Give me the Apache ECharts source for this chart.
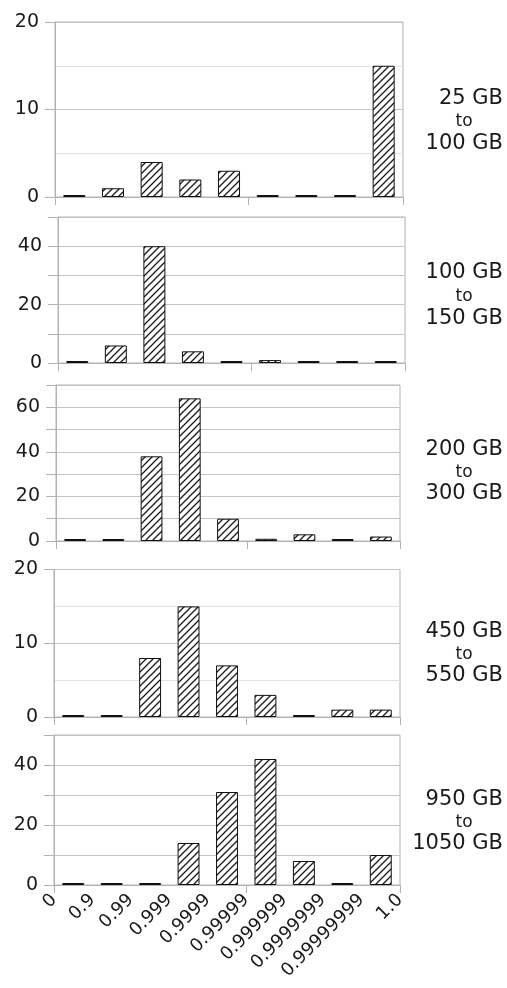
<!DOCTYPE html>
<html>
<head>
<meta charset="utf-8">
<script src="https://cdn.jsdelivr.net/npm/echarts@6/dist/echarts.min.js"></script>
<style>
html,body{margin:0;padding:0;background:#fff;}
#c{width:507px;height:988px;}
</style>
</head>
<body>
<div id="c"></div>
<script>
// ---- data ----
const edgeLabels = ['0','0.9','0.99','0.999','0.9999','0.99999','0.999999','0.9999999','0.99999999','1.0'];
const bins = ['0–0.9','0.9–0.99','0.99–0.999','0.999–0.9999','0.9999–0.99999','0.99999–0.999999','0.999999–0.9999999','0.9999999–0.99999999','0.99999999–1.0'];
const size25to100   = [0, 1, 4, 2, 3, 0, 0, 0, 15];
const size100to150  = [0, 6, 40, 4, 0, 1, 0, 0, 0];
const size200to300  = [0, 0, 38, 64, 10, 1, 3, 0, 2];
const size450to550  = [0, 0, 8, 15, 7, 3, 0, 1, 1];
const size950to1050 = [0, 0, 0, 14, 31, 42, 8, 0, 10];
const panelLabels = [
  ['25 GB','to','100 GB'],
  ['100 GB','to','150 GB'],
  ['200 GB','to','300 GB'],
  ['450 GB','to','550 GB'],
  ['950 GB','to','1050 GB']
];
const yMax = [20, 50, 70, 20, 50];
const yLabelStep = [10, 20, 20, 10, 20];

// ---- layout / style ----
const seriesData = [size25to100, size100to150, size200to300, size450to550, size950to1050];
const grids = [
  {left:55, top:22, width:348, height:175},
  {left:58, top:217, width:347, height:146},
  {left:56, top:385, width:344, height:156},
  {left:54, top:569.5, width:346, height:147.5},
  {left:54, top:735, width:346, height:150}
];
const labelY = [[99,122,144],[273,297,319],[450,473,494],[631.7,655,675.5],[800,823,844]];

const pc = document.createElement('canvas');
pc.width = 7; pc.height = 7;
const g = pc.getContext('2d');
g.fillStyle = '#fff'; g.fillRect(0,0,7,7);
g.strokeStyle = '#1a1a1a'; g.lineWidth = 1.3;
g.beginPath();
g.moveTo(-1,8); g.lineTo(8,-1);
g.moveTo(-1,1); g.lineTo(1,-1);
g.moveTo(6,8); g.lineTo(8,6);
g.stroke();

const axisGray = '#b3b3b3';
const font = 'DejaVu Sans';

const option = {
  animation:false,
  backgroundColor:'#fff',
  grid: grids.map(gr => Object.assign({show:true, borderColor:axisGray, borderWidth:1, containLabel:false}, gr)),
  xAxis: [],
  yAxis: [],
  series: [],
  graphic: []
};

for (let i = 0; i < 5; i++) {
  option.xAxis.push({
    type:'category', gridIndex:i, data:bins, boundaryGap:true,
    axisLine:{show:true, lineStyle:{color:axisGray, width:1}},
    axisTick:{show:true, length:8, lineStyle:{color:axisGray}},
    axisLabel:{show:false},
    splitLine:{show:false}
  });
  const step = yLabelStep[i];
  const minor = (i === 0 || i === 3);
  option.yAxis.push({
    type:'value', gridIndex:i, min:0, max:yMax[i], interval:10,
    axisLine:{show:true, lineStyle:{color:axisGray, width:1}},
    axisTick:{show:true, length:10, lineStyle:{color:axisGray}},
    axisLabel:{show:true, margin:16, fontFamily:font, fontSize:19, color:'#1a1a1a',
      formatter: v => (v % step === 0 ? String(v) : '')},
    splitLine:{show:true, lineStyle:{color:'#c4c4c4', width:1}},
    minorTick:{show:false, splitNumber:2},
    minorSplitLine:{show:minor, lineStyle:{color:'#e2e2e2', width:1}}
  });
  option.series.push({
    type:'bar', xAxisIndex:i, yAxisIndex:i, data:seriesData[i],
    barWidth:'57%', barMinHeight:2,
    itemStyle:{color:{image:pc, repeat:'repeat'}, borderColor:'#111', borderWidth:1},
    emphasis:{disabled:true}
  });
  const L = panelLabels[i];
  const ys = labelY[i];
  option.graphic.push(
    {type:'text', x:503, y:ys[0], style:{text:L[0], font:'21px "DejaVu Sans"', fill:'#1a1a1a', textAlign:'right', textVerticalAlign:'middle'}},
    {type:'text', x:464, y:ys[1], style:{text:L[1], font:'17px "DejaVu Sans"', fill:'#1a1a1a', textAlign:'center', textVerticalAlign:'middle'}},
    {type:'text', x:503, y:ys[2], style:{text:L[2], font:'21px "DejaVu Sans"', fill:'#1a1a1a', textAlign:'right', textVerticalAlign:'middle'}}
  );
}
// edge labels on the bottom panel
option.xAxis.push({
  type:'category', gridIndex:4, data:edgeLabels, boundaryGap:false, position:'bottom',
  axisLine:{show:false}, axisTick:{show:false}, splitLine:{show:false},
  axisLabel:{show:true, interval:0, rotate:45, margin:12, fontFamily:font, fontSize:18, color:'#1a1a1a'}
});

const chart = echarts.init(document.getElementById('c'), null, {renderer:'canvas', width:507, height:988});
chart.setOption(option);
</script>
</body>
</html>
